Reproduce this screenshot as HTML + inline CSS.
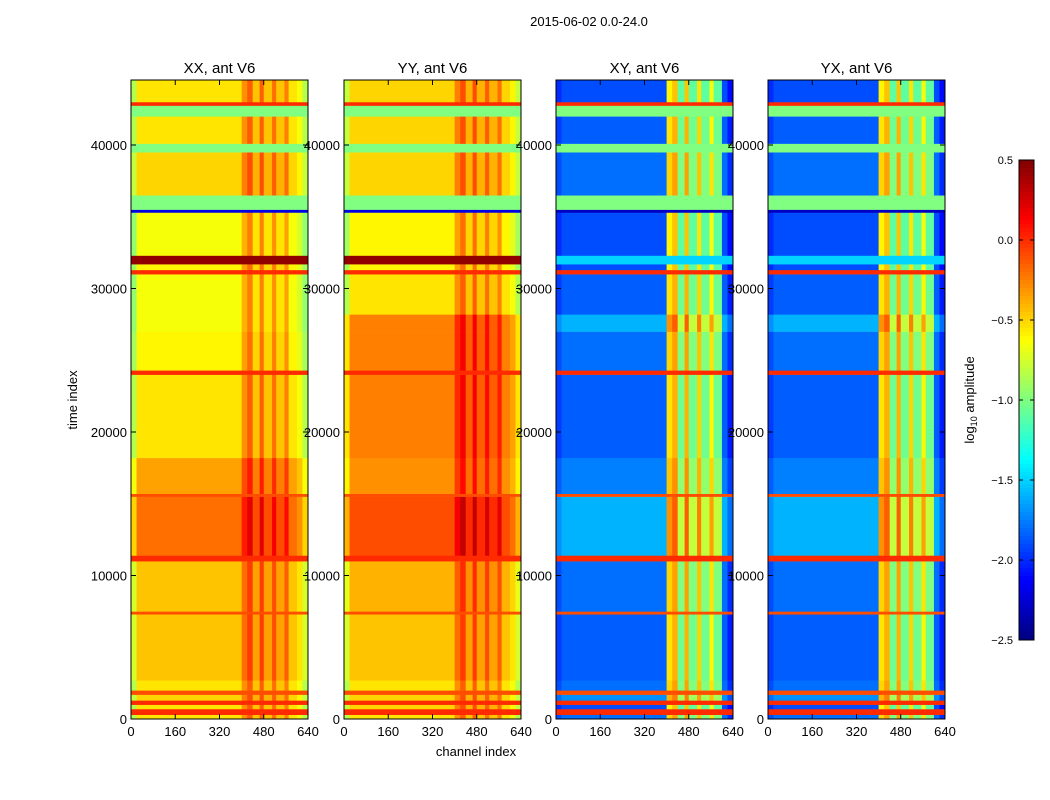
<!DOCTYPE html>
<html><head><meta charset="utf-8"><style>
body{margin:0;background:#fff;}
svg{display:block;font-family:"Liberation Sans",sans-serif;}
</style></head><body>
<svg id="fig" width="1050" height="800" viewBox="0 0 1050 800">
<text x="589" y="26" font-size="13" text-anchor="middle">2015-06-02 0.0-24.0</text>
<text transform="translate(77,400) rotate(-90)" font-size="13" text-anchor="middle">time index</text>
<text x="476" y="756" font-size="13" text-anchor="middle">channel index</text>
<text transform="translate(974,400) rotate(-90)" font-size="13" text-anchor="middle">log<tspan font-size="9" dy="3">10</tspan><tspan dy="-3"> amplitude</tspan></text>
<g id="panels"></g>
<g id="cbar"></g>
</svg>
<script>
// time band edges (time index)
const bandEdges=[0,300,700,1000,1300,1700,2000,2700,7300,7500,11000,11400,15500,15700,18200,24000,24300,27000,28200,31000,31300,31700,32300,35300,35500,36500,39500,40100,42000,42750,43000,44530];
// 1 = flat band (flagged / line, no channel structure)
const bandFlat=[0,1,0,1,0,1,0,0,1,0,1,0,1,0,0,1,0,0,0,1,0,1,0,1,1,0,1,0,1,1,0];
const xxLevels=[-0.55,0,-0.55,0,-0.5,-0.1,-0.55,-0.45,-0.1,-0.45,0,-0.2,-0.1,-0.35,-0.55,0,-0.6,-0.65,-0.65,0,-0.6,0.45,-0.65,-2.2,-1.0,-0.5,-1.0,-0.55,-1.0,0,-0.55];
const yyLevels=[-0.55,0,-0.5,0,-0.5,-0.1,-0.55,-0.45,-0.1,-0.4,0,-0.1,-0.1,-0.3,-0.25,0,-0.25,-0.25,-0.55,0,-0.6,0.45,-0.6,-2.2,-1.0,-0.5,-1.0,-0.5,-1.0,0,-0.5];
const xyLevels=[-1.8,0,-1.9,0,-1.7,-0.1,-1.8,-1.85,-0.1,-1.8,0,-1.6,-0.1,-1.75,-1.85,0,-1.8,-1.6,-1.85,0,-1.9,-1.5,-1.9,-2.3,-1.0,-1.8,-1.0,-1.85,-1.0,0,-1.9];
const yxLevels=[-1.8,0,-1.9,0,-1.7,-0.1,-1.8,-1.85,-0.1,-1.8,0,-1.6,-0.1,-1.75,-1.85,0,-1.8,-1.6,-1.85,0,-1.9,-1.5,-1.9,-2.3,-1.0,-1.8,-1.0,-1.85,-1.0,0,-1.9];
// channel segment edges and offsets
const chanEdges=[0,20,400,420,440,465,480,510,525,555,570,600,620,640];
const parOffsets=[-0.3,0,0.25,0.4,0.1,0.4,0.1,0.35,0.1,0.3,0,-0.1,-0.3];
const crossOffsets=[-0.1,0,1.3,1.45,0.8,1.45,0.8,1.35,0.8,1.25,0.8,0,-0.2];
const panelTitles=["XX, ant V6","YY, ant V6","XY, ant V6","YX, ant V6"];
const yTicks=[0,10000,20000,30000,40000];
const xTicks=[0,160,320,480,640];
const cbTicks=[0.5,0.0,-0.5,-1.0,-1.5,-2.0,-2.5];

const NS="http://www.w3.org/2000/svg";
const panelX=[131,344,556,768], PW=177, PT=80, PB=719, TMAX=44530, VMIN=-2.5, VMAX=0.5;
function yScale(t){return PB-(t/TMAX)*(PB-PT);}
function xScale(px,c){return px+(c/640)*PW;}
function jet(v){
  let x=(v-VMIN)/(VMAX-VMIN);x=Math.max(0,Math.min(1,x));
  const f=t=>Math.round(255*Math.max(0,Math.min(1,t)));
  const r=f(Math.min(4*x-1.5,-4*x+4.5)),g=f(Math.min(4*x-0.5,-4*x+3.5)),b=f(Math.min(4*x+0.5,-4*x+2.5));
  return `rgb(${r},${g},${b})`;
}
function el(tag,attrs,parent){const e=document.createElementNS(NS,tag);for(const k in attrs)e.setAttribute(k,attrs[k]);parent.appendChild(e);return e;}
const panelsG=document.getElementById('panels');
const levels=[xxLevels,yyLevels,xyLevels,yxLevels];
for(let p=0;p<4;p++){
  const px=panelX[p];
  const g=el('g',{},panelsG);
  
  
  const offs=p<2?parOffsets:crossOffsets;
  const lv=levels[p];
  for(let b=0;b<bandEdges.length-1;b++){
    const y0=yScale(bandEdges[b+1]),y1=yScale(bandEdges[b]);
    if(bandFlat[b]){
      const r=el('rect',{x:px,y:y0,width:PW,height:y1-y0+0.3,fill:jet(lv[b])},g);
      
      
    } else {
      for(let c=0;c<chanEdges.length-1;c++){
        const x0=xScale(px,chanEdges[c]),x1=xScale(px,chanEdges[c+1]);
        const r=el('rect',{x:x0,y:y0,width:x1-x0+0.3,height:y1-y0+0.3,fill:jet(lv[b]+offs[c])},g);
        
        
      }
    }
  }
  const fr=el('rect',{x:px,y:PT,width:PW,height:PB-PT,fill:'none',stroke:'#000','stroke-width':1},g);
  
  
  const t=el('text',{x:px+PW/2,y:73,'font-size':15,'text-anchor':'middle'},g);
  t.textContent=panelTitles[p];
  
  
  yTicks.forEach(v=>{
    const y=yScale(v);
    el('line',{x1:px,x2:px+5,y1:y,y2:y,stroke:'#000'},g);
    el('line',{x1:px+PW-5,x2:px+PW,y1:y,y2:y,stroke:'#000'},g);
    const l=el('text',{x:px-4,y:y+5,'font-size':13,'text-anchor':'end'},g);
    l.textContent=v;
    
    
  });
  xTicks.forEach(v=>{
    const x=xScale(px,v);
    el('line',{x1:x,x2:x,y1:PB,y2:PB-5,stroke:'#000'},g);
    el('line',{x1:x,x2:x,y1:PT,y2:PT+5,stroke:'#000'},g);
    const l=el('text',{x:x,y:736,'font-size':13,'text-anchor':'middle'},g);
    l.textContent=v;
    
    
  });
}
// colorbar
const cb=document.getElementById('cbar');
const CX=1019,CW=15,CT=160,CB=640;
for(let i=0;i<120;i++){
  const v=VMAX-(i+0.5)*(VMAX-VMIN)/120;
  const r=el('rect',{x:CX,y:CT+i*(CB-CT)/120,width:CW,height:(CB-CT)/120+0.5,fill:jet(v)},cb);
  
  
}
const cf=el('rect',{x:CX,y:CT,width:CW,height:CB-CT,fill:'none',stroke:'#000'},cb);


cbTicks.forEach(v=>{
  const y=CT+(VMAX-v)/(VMAX-VMIN)*(CB-CT);
  el('line',{x1:CX+CW-4,x2:CX+CW,y1:y,y2:y,stroke:'#000'},cb);
  el('line',{x1:CX,x2:CX+4,y1:y,y2:y,stroke:'#000'},cb);
  const l=el('text',{x:CX-6,y:y+4,'font-size':11,'text-anchor':'end'},cb);
  l.textContent=(v<0?'\u2212':'')+Math.abs(v).toFixed(1);
  
  
});
</script>
</body></html>
